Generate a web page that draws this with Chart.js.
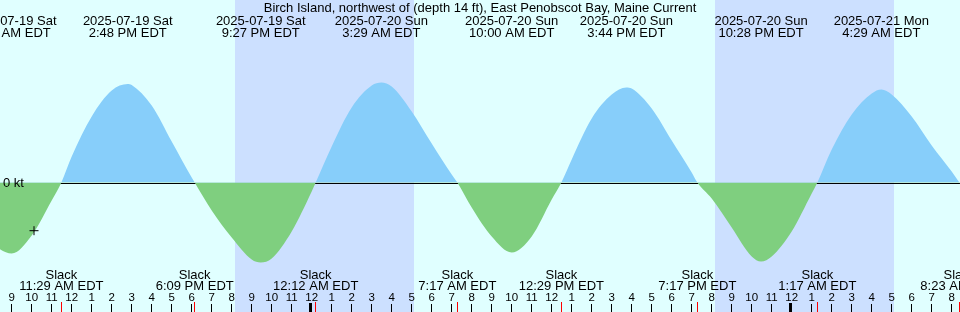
<!DOCTYPE html>
<html><head><meta charset="utf-8">
<script src="https://cdn.jsdelivr.net/npm/chart.js@4/dist/chart.umd.min.js"></script>
<style>html,body{margin:0;padding:0;background:#e0ffff;}canvas{display:block;}</style>
</head><body>
<canvas id="c" width="960" height="312"></canvas>
<script>
const titleText = 'Birch Island, northwest of (depth 14 ft), East Penobscot Bay, Maine Current';
// hours since 2025-07-19 00:00 EDT
const curveHours = [8, 9, 10, 11, 11.483, 12, 13, 14, 14.8, 15, 16, 17, 18, 18.15, 19, 20, 21, 21.45, 22, 23, 24, 24.2, 25, 26, 27, 27.483, 28, 29, 30, 31, 31.283, 32, 33, 34, 35, 36, 36.483, 37, 38, 39, 39.733, 40, 41, 42, 43, 43.283, 44, 45, 46, 46.467, 47, 48, 49, 49.283, 50, 51, 52, 52.483, 53, 54, 55, 56, 56.383, 57];
const curveKnots = [-0.62, -0.71, -0.53, -0.18, 0, 0.26, 0.66, 0.92, 0.985, 0.975, 0.77, 0.41, 0.05, 0, -0.28, -0.55, -0.77, -0.80, -0.76, -0.49, -0.09, 0, 0.36, 0.75, 0.97, 1.00, 0.96, 0.71, 0.39, 0.08, 0, -0.25, -0.54, -0.70, -0.54, -0.17, 0, 0.23, 0.64, 0.88, 0.95, 0.94, 0.74, 0.42, 0.10, 0, -0.16, -0.45, -0.74, -0.79, -0.74, -0.49, -0.11, 0, 0.33, 0.68, 0.89, 0.93, 0.88, 0.66, 0.37, 0.11, 0, -0.18];
const extremeHours = [9.0, 14.8, 21.45, 27.483, 34.0, 39.733, 46.467, 52.483];
const extremeDates = ['2025-07-19 Sat','2025-07-19 Sat','2025-07-19 Sat','2025-07-20 Sun','2025-07-20 Sun','2025-07-20 Sun','2025-07-20 Sun','2025-07-21 Mon'];
const extremeTimes = ['9:00 AM EDT','2:48 PM EDT','9:27 PM EDT','3:29 AM EDT','10:00 AM EDT','3:44 PM EDT','10:28 PM EDT','4:29 AM EDT'];
const slackHours = [11.483, 18.15, 24.2, 31.283, 36.483, 43.283, 49.283, 56.383];
const slackTimes = ['11:29 AM EDT','6:09 PM EDT','12:12 AM EDT','7:17 AM EDT','12:29 PM EDT','7:17 PM EDT','1:17 AM EDT','8:23 AM EDT'];
const nightStart = [20.167, 44.167];
const nightEnd = [29.117, 53.117];
const firstTickHour = 9;
const tickLabels = ['9','10','11','12','1','2','3','4','5','6','7','8','9','10','11','12','1','2','3','4','5','6','7','8','9','10','11','12','1','2','3','4','5','6','7','8','9','10','11','12','1','2','3','4','5','6','7','8'];
const midnightHours = [24, 48];
const nowHours = [10.115];
const nowKnots = [-0.482];
const zeroLabel = '0 kt';

const FONT = '"Liberation Sans", Arial, sans-serif';

const deco = {
  id: 'deco',
  beforeDraw(chart) {
    const ctx = chart.ctx, x = chart.scales.x, y = chart.scales.y;
    ctx.save();
    ctx.fillStyle = '#e0ffff';
    ctx.fillRect(0, 0, chart.width, chart.height);
    ctx.fillStyle = '#cce0ff';
    nightStart.forEach((s, i) => {
      const x0 = Math.round(x.getPixelForValue(s)), x1 = Math.round(x.getPixelForValue(nightEnd[i]));
      ctx.fillRect(x0, 0, x1 - x0, chart.height);
    });
    const y0 = y.getPixelForValue(0);
    ctx.fillStyle = '#000';
    ctx.fillRect(0, Math.round(y0), chart.width, 1);
    ctx.restore();
  },
  afterDatasetsDraw(chart) {
    const ctx = chart.ctx, x = chart.scales.x, y = chart.scales.y;
    ctx.save();
    ctx.fillStyle = '#000';
    ctx.textAlign = 'center';
    ctx.textBaseline = 'alphabetic';
    ctx.font = '13px ' + FONT;
    ctx.fillText(titleText, 480, 12);
    extremeHours.forEach((h, i) => {
      const px = x.getPixelForValue(h);
      ctx.fillText(extremeDates[i], px, 25);
      ctx.fillText(extremeTimes[i], px, 37);
    });
    slackHours.forEach((h, i) => {
      const px = x.getPixelForValue(h);
      ctx.fillText('Slack', px, 278.5);
      ctx.fillText(slackTimes[i], px, 290);
    });
    ctx.font = '11.5px ' + FONT;
    tickLabels.forEach((lab, i) => {
      const h = firstTickHour + i;
      const px = x.getPixelForValue(h);
      ctx.fillStyle = '#000';
      ctx.fillText(lab, px, 301);
      const fx = Math.floor(px);
      if (midnightHours.includes(h)) ctx.fillRect(fx - 2, 303, 3, 9);
      else ctx.fillRect(fx, 304, 1, 8);
    });
    ctx.fillStyle = '#ff0000';
    slackHours.forEach(h => {
      const fx = Math.floor(x.getPixelForValue(h));
      ctx.fillRect(fx, 302, 1, 10);
    });
    ctx.fillStyle = '#000';
    ctx.textAlign = 'left';
    ctx.font = '13px ' + FONT;
    ctx.fillText(zeroLabel, 3, 187);
    ctx.restore();
  }
};

new Chart(document.getElementById('c'), {
  type: 'line',
  data: {
    datasets: [
      {
        data: curveHours.map((h, i) => ({x: h, y: curveKnots[i]})),
        fill: {target: 'origin', above: '#87cefa', below: '#7fcf7f'},
        borderWidth: 0,
        borderColor: 'rgba(0,0,0,0)',
        pointRadius: 0,
        cubicInterpolationMode: 'monotone',
        order: 2
      },
      {
        type: 'scatter',
        data: nowHours.map((h, i) => ({x: h, y: nowKnots[i]})),
        pointStyle: 'cross',
        pointRadius: 4.5,
        borderColor: '#000',
        backgroundColor: '#000',
        borderWidth: 1,
        showLine: false,
        clip: false,
        order: 0
      }
    ]
  },
  options: {
    responsive: false,
    animation: false,
    devicePixelRatio: 1,
    layout: {padding: 0, autoPadding: false},
    plugins: {legend: {display: false}, tooltip: {enabled: false}, title: {display: false}},
    scales: {
      x: {type: 'linear', min: 8.415, max: 56.415, display: false},
      y: {type: 'linear', min: -1.295, max: 1.825, display: false}
    }
  },
  plugins: [deco]
});
</script>
</body></html>
